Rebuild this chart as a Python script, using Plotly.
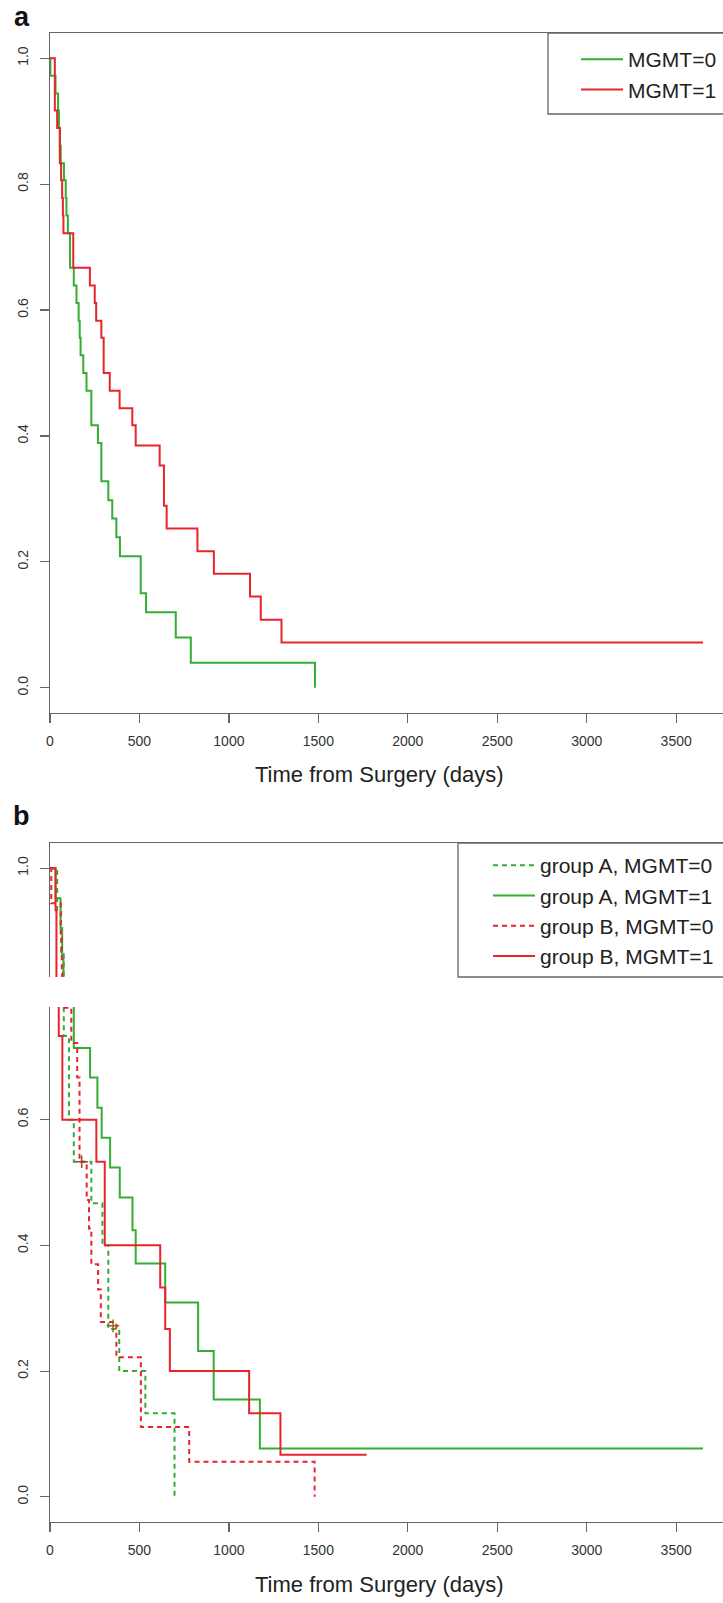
import plotly.graph_objects as go

# ---------------- data ----------------
# Panel a: Kaplan-Meier, all patients split by MGMT
a_mgmt0_days = [0, 2, 31, 45, 50, 55, 60, 78, 88, 92, 100, 112, 133, 148, 160, 166, 171,
                186, 204, 231, 268, 287, 326, 348, 371, 391, 507, 537, 703, 787, 1481]
a_mgmt0_surv = [1.0, 0.972, 0.944, 0.917, 0.889, 0.861, 0.833, 0.806, 0.778, 0.75, 0.722,
                0.667, 0.639, 0.611, 0.583, 0.556, 0.528, 0.5, 0.472, 0.417, 0.389, 0.328,
                0.298, 0.269, 0.239, 0.209, 0.15, 0.12, 0.08, 0.04, 0.0]
a_mgmt1_days = [0, 27, 40, 55, 62, 68, 72, 75, 130, 223, 250, 258, 287, 300, 334, 389, 460,
                479, 613, 637, 652, 824, 916, 1118, 1178, 1294, 3650]
a_mgmt1_surv = [1.0, 0.917, 0.889, 0.833, 0.806, 0.778, 0.75, 0.722, 0.667, 0.639, 0.611,
                0.583, 0.556, 0.5, 0.472, 0.444, 0.417, 0.385, 0.353, 0.289, 0.253, 0.217,
                0.181, 0.145, 0.108, 0.072, 0.072]

# Panel b: by group and MGMT
b_A0_days = [0, 40, 62, 77, 106, 133, 231, 293, 326, 387, 533, 696]
b_A0_surv = [1.0, 0.933, 0.867, 0.733, 0.6, 0.533, 0.467, 0.4, 0.267, 0.2, 0.133, 0.0]
b_A1_days = [0, 31, 59, 68, 75, 133, 224, 265, 289, 336, 390, 461, 479, 644, 828, 915, 1173, 3650]
b_A1_surv = [1.0, 0.952, 0.905, 0.857, 0.81, 0.714, 0.667, 0.619, 0.571, 0.524, 0.476,
             0.424, 0.371, 0.309, 0.232, 0.155, 0.077, 0.077]
b_B0_days = [0, 7, 60, 66, 68, 119, 152, 165, 205, 218, 231, 269, 284, 371, 508, 778, 1479]
b_B0_surv = [1.0, 0.944, 0.889, 0.833, 0.778, 0.722, 0.667, 0.533, 0.472, 0.427, 0.37,
             0.33, 0.278, 0.222, 0.111, 0.056, 0.0]
b_B1_days = [0, 31, 36, 49, 69, 259, 306, 616, 644, 670, 1113, 1288, 1770]
b_B1_surv = [1.0, 0.933, 0.8, 0.733, 0.6, 0.533, 0.4, 0.333, 0.267, 0.2, 0.133, 0.067, 0.067]

# censoring marks visible in panel b
b_A0_cens_days = [352]
b_A0_cens_surv = [0.272]
b_B0_cens_days = [177]
b_B0_cens_surv = [0.533]

x_tick_vals = [0, 500, 1000, 1500, 2000, 2500, 3000, 3500]
y_tick_vals = [0.0, 0.2, 0.4, 0.6, 0.8, 1.0]
x_title = "Time from Surgery (days)"
legend_a_names = ["MGMT=0", "MGMT=1"]
legend_b_names = ["group A, MGMT=0", "group A, MGMT=1", "group B, MGMT=0", "group B, MGMT=1"]

# ---------------- style ----------------
GREEN = "#35AD35"
RED = "#E8242C"
FONT = "Liberation Sans, Arial, Helvetica, sans-serif"
AXIS_COL = "#666666"
W, H = 723, 1603
ML, MR, MT, MB = 50, 0, 33, 81
PW = W - ML - MR
PH = H - MT - MB


def px_x(px):
    return (px - ML) / PW


def px_y(py):
    return (H - MB - py) / PH


fig = go.Figure()


def step(x, y, color, name, xa, ya, leg, dash="solid", show=True):
    fig.add_trace(go.Scatter(
        x=x, y=y, mode="lines", name=name,
        line=dict(shape="hv", color=color, width=2, dash=dash),
        xaxis=xa, yaxis=ya, legend=leg, showlegend=show, hoverinfo="skip"))


DASH = "5px,4px"
step(a_mgmt0_days, a_mgmt0_surv, GREEN, legend_a_names[0], "x", "y", "legend")
step(a_mgmt1_days, a_mgmt1_surv, RED, legend_a_names[1], "x", "y", "legend")

step(b_A0_days, b_A0_surv, GREEN, legend_b_names[0], "x2", "y2", "legend2", dash=DASH)
step(b_A1_days, b_A1_surv, GREEN, legend_b_names[1], "x2", "y2", "legend2")
step(b_B0_days, b_B0_surv, RED, legend_b_names[2], "x2", "y2", "legend2", dash=DASH)
step(b_B1_days, b_B1_surv, RED, legend_b_names[3], "x2", "y2", "legend2")

for cx, cy, col in [(b_A0_cens_days, b_A0_cens_surv, "#8a6a2a"), (b_B0_cens_days, b_B0_cens_surv, "#9a4a2a")]:
    fig.add_trace(go.Scatter(
        x=cx, y=cy, mode="markers", showlegend=False, hoverinfo="skip",
        marker=dict(symbol="cross-thin", size=9, line=dict(width=1.5, color=col)),
        xaxis="x2", yaxis="y2"))

x_range = [0, PW / 0.17891]
y_range = [-0.04, 1.04]

xaxis_common = dict(
    range=x_range, tickvals=x_tick_vals, ticks="outside", ticklen=9, tickwidth=1.2,
    tickcolor=AXIS_COL, showline=True, linecolor=AXIS_COL, linewidth=1.3, mirror=True,
    showgrid=False, zeroline=False, tickfont=dict(family=FONT, size=14, color="#333333"),
    ticklabelstandoff=6,
)
yaxis_common = dict(
    range=y_range, tickvals=y_tick_vals, tickformat=".1f", ticks="outside", ticklen=9,
    tickwidth=1.2, tickcolor=AXIS_COL, showline=True, linecolor=AXIS_COL, linewidth=1.3,
    showgrid=False, zeroline=False, tickangle=-90,
    tickfont=dict(family=FONT, size=14, color="#333333"), ticklabelstandoff=6,
)

top_a = 33
bot_a = 713
top_b = 843
bot_b = 1522

LEG_FONT = dict(family=FONT, size=21, color="#222222")

fig.update_layout(
    width=W, height=H,
    margin=dict(l=ML, r=MR, t=MT, b=MB),
    paper_bgcolor="white", plot_bgcolor="white",
    font=dict(family=FONT, color="#222222"),
    xaxis=dict(domain=[0, 1], anchor="y", **xaxis_common),
    yaxis=dict(domain=[px_y(bot_a), px_y(top_a)], anchor="x", **yaxis_common),
    xaxis2=dict(domain=[0, 1], anchor="y2", **xaxis_common),
    yaxis2=dict(domain=[px_y(bot_b), px_y(top_b)], anchor="x2", **yaxis_common),
    legend=dict(x=px_x(576), y=px_y(39), xanchor="left", yanchor="top",
                bgcolor="rgba(0,0,0,0)", borderwidth=0, itemwidth=42,
                font=LEG_FONT, tracegroupgap=0),
    legend2=dict(x=px_x(488), y=px_y(845), xanchor="left", yanchor="top",
                 bgcolor="rgba(0,0,0,0)", borderwidth=0, itemwidth=42,
                 font=LEG_FONT, tracegroupgap=0),
    showlegend=True,
)

shapes = []
# white band artefact across panel b (as in the reference image)
shapes.append(dict(type="rect", xref="paper", yref="paper",
                   x0=-0.08, x1=1.05, y0=px_y(1007), y1=px_y(977),
                   fillcolor="white", line=dict(width=0), layer="above"))
# legend boxes
shapes.append(dict(type="rect", xref="paper", yref="paper",
                   x0=px_x(548), x1=1.05, y0=px_y(114), y1=px_y(33),
                   fillcolor="rgba(0,0,0,0)", line=dict(color=AXIS_COL, width=1.3), layer="above"))
shapes.append(dict(type="rect", xref="paper", yref="paper",
                   x0=px_x(458), x1=1.05, y0=px_y(977), y1=px_y(843),
                   fillcolor="rgba(0,0,0,0)", line=dict(color=AXIS_COL, width=1.3), layer="above"))
fig.update_layout(shapes=shapes)

annotations = [
    dict(text="<b>a</b>", x=px_x(22), y=px_y(17), xref="paper", yref="paper",
         showarrow=False, font=dict(family=FONT, size=27, color="#111111"),
         xanchor="center", yanchor="middle"),
    dict(text="<b>b</b>", x=px_x(21), y=px_y(816), xref="paper", yref="paper",
         showarrow=False, font=dict(family=FONT, size=27, color="#111111"),
         xanchor="center", yanchor="middle"),
    dict(text=x_title, x=px_x(379), y=px_y(774), xref="paper", yref="paper",
         showarrow=False, font=dict(family=FONT, size=22, color="#222222"),
         xanchor="center", yanchor="middle"),
    dict(text=x_title, x=px_x(379), y=px_y(1584), xref="paper", yref="paper",
         showarrow=False, font=dict(family=FONT, size=22, color="#222222"),
         xanchor="center", yanchor="middle"),
]
fig.update_layout(annotations=annotations)

# the page body has a default 8px margin; remove it so the figure sits at the page origin
fig.write_html(
    "out.html",
    config={"displayModeBar": False, "staticPlot": True},
    post_script="document.body.style.margin='0px';document.body.style.padding='0px';",
)
